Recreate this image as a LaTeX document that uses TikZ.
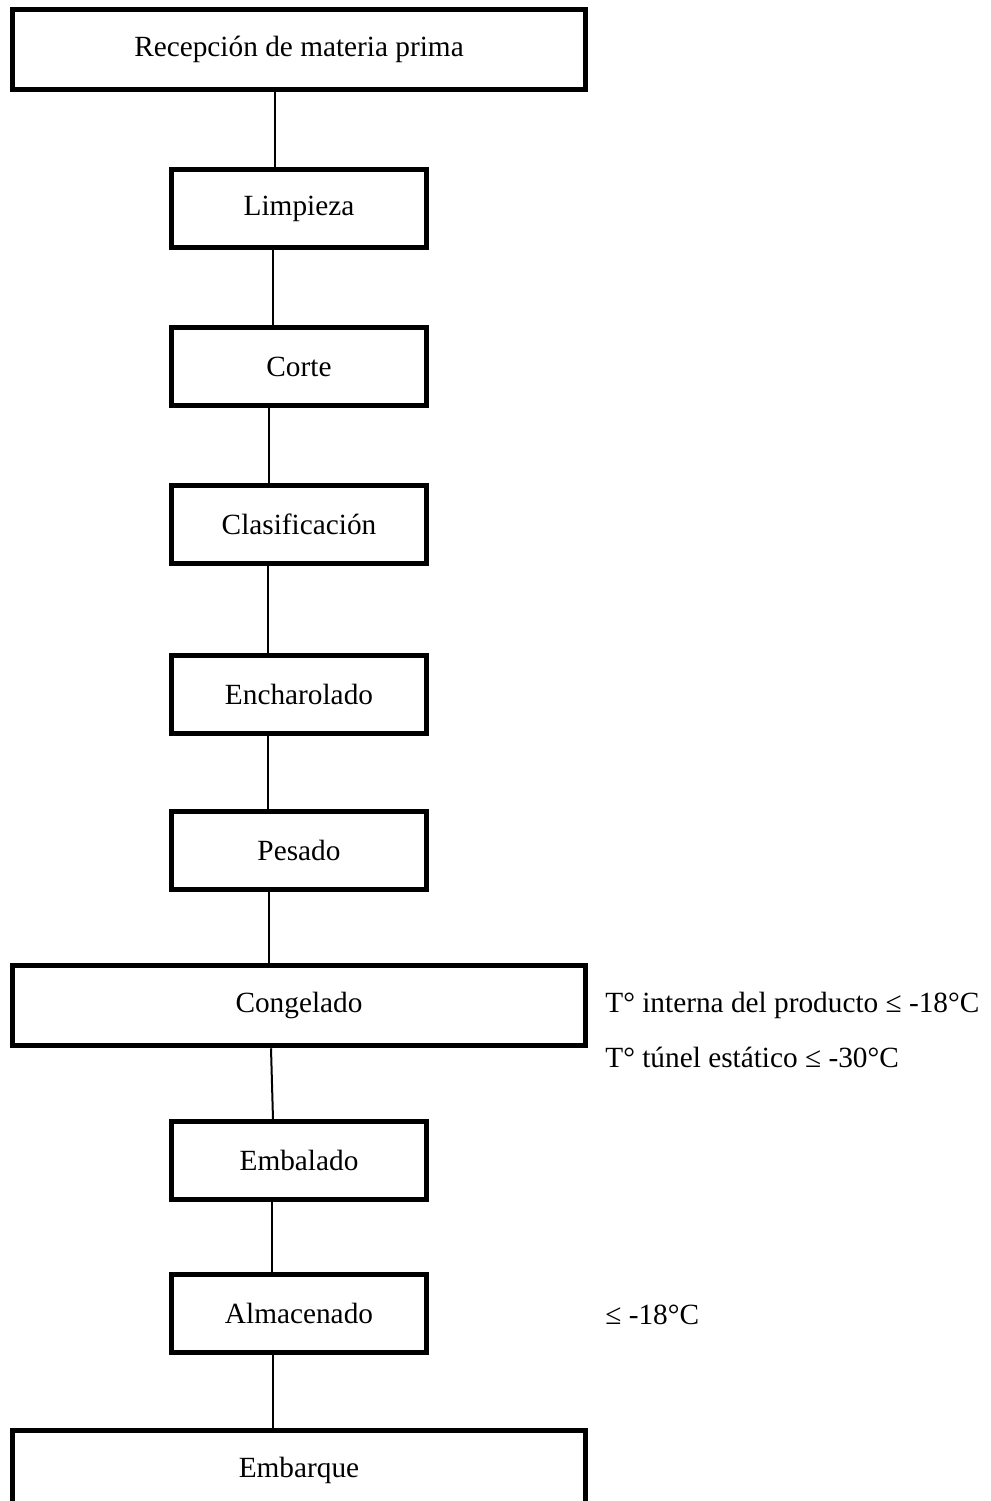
\documentclass[tikz,border=0pt]{standalone}
\usepackage{fontspec}
\setmainfont{Liberation Serif}
\usetikzlibrary{positioning}
\tikzset{
  process/.style={
    draw, rectangle, line width=2.5pt, align=center,
    font=\fontsize{14.65pt}{17pt}\selectfont,
    minimum width=127.75pt, minimum height=39pt,
    inner sep=0pt
  },
  processWide/.style={
    process, minimum width=286.5pt, minimum height=40pt
  },
  % Temperature notes
  note/.style={
    inner sep=0pt, anchor=base west,
    font=\fontsize{14.65pt}{17pt}\selectfont
  },
  % Connector between steps
  flow/.style={
    -, line width=1pt
  },
}

\begin{document}
\begin{tikzpicture}[x=0.5pt, y=-0.5pt]

  \clip (0,0) rectangle (991,1501);

  %% ── Process steps ──
  \node[processWide] (recepF) at (299,49.75) {Recepción de materia prima};
  \node[process, below=37.5pt of recepF]  (limpF)   {Limpieza};
  \node[process, below=37.5pt of limpF]   (corteF)  {Corte};
  \node[process, below=37.5pt of corteF]  (clasifF) {Clasificación};
  \node[process, below=43.5pt of clasifF] (encharF) {Encharolado};
  \node[process, below=36.5pt of encharF] (pesadoF) {Pesado};
  \node[processWide, below=35.5pt of pesadoF] (congelF) {Congelado};
  \node[process, below=35.5pt of congelF] (embalF)  {Embalado};
  \node[process, below=34.75pt of embalF] (almacF)  {Almacenado};
  \node[processWide, below=36.75pt of almacF] (embarqF) {Embarque};

  %% ── Temperature notes ──
  \node[note, xshift=8.5pt, yshift=-3.5pt] (tInt) at (congelF.east)
    {T° interna del producto ≤ -18°C};
  \node[note, yshift=-27.5pt] (tTun) at (tInt.base west)
    {T° túnel estático ≤ -30°C};
  \node[note, yshift=-5.5pt] (tAlm) at (tInt.base west |- almacF.east)
    {≤ -18°C};

  %% ── Connectors ──
  \draw[flow] ([xshift=-12pt]recepF.south)   -- ([xshift=-12pt]limpF.north);
  \draw[flow] ([xshift=-13pt]limpF.south)    -- ([xshift=-13pt]corteF.north);
  \draw[flow] ([xshift=-15pt]corteF.south)   -- ([xshift=-15pt]clasifF.north);
  \draw[flow] ([xshift=-15.5pt]clasifF.south) -- ([xshift=-15.5pt]encharF.north);
  \draw[flow] ([xshift=-15.5pt]encharF.south) -- ([xshift=-15.5pt]pesadoF.north);
  \draw[flow] ([xshift=-15pt]pesadoF.south)  -- ([xshift=-15pt]congelF.north);
  \draw[flow] ([xshift=-14pt]congelF.south)  -- ([xshift=-13pt]embalF.north);
  \draw[flow] ([xshift=-13.5pt]embalF.south) -- ([xshift=-13.5pt]almacF.north);
  \draw[flow] ([xshift=-13pt]almacF.south)   -- ([xshift=-13pt]embarqF.north);

\end{tikzpicture}
\end{document}
